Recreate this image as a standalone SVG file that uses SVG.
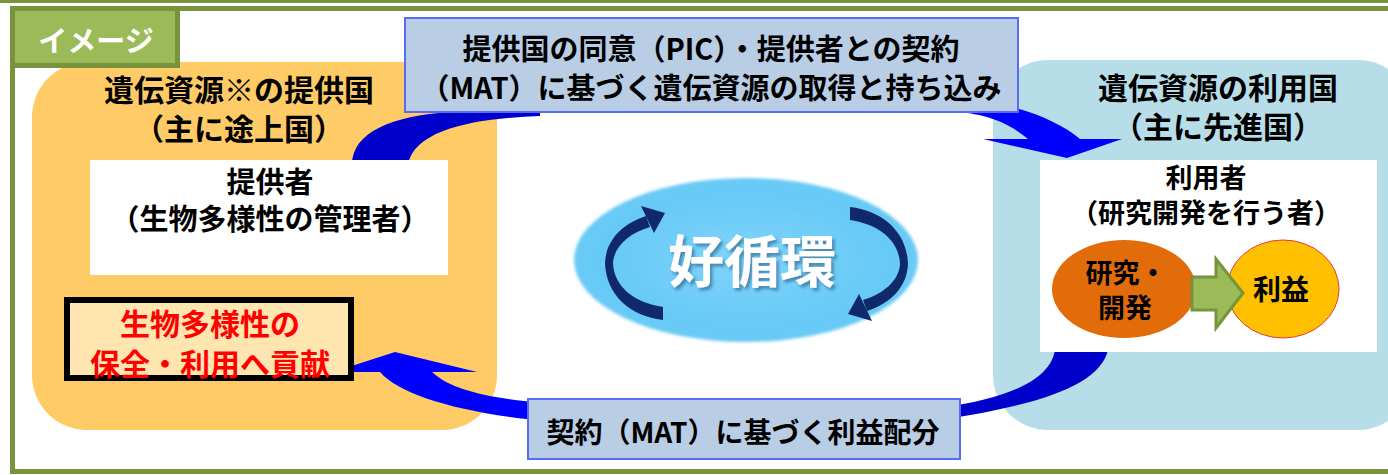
<svg xmlns="http://www.w3.org/2000/svg" width="1388" height="475" viewBox="0 0 1388 475">
<style>
.t{font-family:"Noto Sans CJK JP","Noto Sans",sans-serif;font-weight:700;text-anchor:middle;fill:#000}
.lbl{fill:#B9CDE5;stroke:#5A6CF0;stroke-width:2}
</style>
<defs>
<radialGradient id="eg" cx="0.5" cy="0.5" r="0.5">
<stop offset="0" stop-color="#80D4FA"/>
<stop offset="0.85" stop-color="#66C9F7"/>
<stop offset="1" stop-color="#6ACAF5"/>
</radialGradient>
<filter id="soft" x="-10%" y="-10%" width="120%" height="120%"><feGaussianBlur stdDeviation="1.5"/></filter>
<filter id="ds" x="-10%" y="-20%" width="125%" height="150%"><feDropShadow dx="2.5" dy="3" stdDeviation="1.5" flood-color="#1E4F78" flood-opacity="0.55"/></filter>
</defs>
<rect x="0" y="0" width="1388" height="475" fill="#fff"/>
<rect x="0" y="0" width="1388" height="3" fill="#77933C"/>
<rect x="12.5" y="8.5" width="1400" height="463" fill="#fff" stroke="#77933C" stroke-width="5"/>

<g id="provider-country">
<rect x="32" y="62" width="465" height="368" rx="55" ry="55" fill="#FECB66"/>
<text class="t" font-size="30"><tspan x="239" y="101">遺伝資源※の提供国</tspan><tspan x="239" y="140">（主に途上国）</tspan></text>
</g>
<g id="user-country">
<rect x="993" y="60" width="420" height="370" rx="55" ry="55" fill="#B7DDE8"/>
<text class="t" font-size="30"><tspan x="1218" y="99">遺伝資源の利用国</tspan><tspan x="1218" y="138">（主に先進国）</tspan></text>
</g>

<g id="tab">
<rect x="12.5" y="8.5" width="165" height="57" fill="#9BBB59" stroke="#77933C" stroke-width="5"/>
<text class="t" x="96" y="52" font-size="29" style="fill:#fff">イメージ</text>
</g>

<g id="connectors">
<path d="M352,165 C352,132 392,116 450,112 L540,112 L540,116 C480,118 414,128 408,165 Z" fill="#0000CC"/>
<path d="M960,100 L1000,104 C1035,112 1062,124 1080,139 L1122,139 L1067,158 L983,139 L1028,139 C1012,126 995,116 960,112 Z" fill="#0000FF"/>
<path d="M1055,350 L1108,350 C1100,385 1040,405 940,420 L940,408 C1010,398 1050,380 1055,350 Z" fill="#0000CC"/>
<path d="M545,403 C495,399 452,391 432,372 L477,372 L395,352 L333,372 L380,372 C400,395 460,413 545,421 Z" fill="#0000FF"/>
</g>

<g id="provider">
<rect x="90" y="160" width="358" height="115" fill="#fff"/>
<text class="t" font-size="29"><tspan x="270" y="193">提供者</tspan><tspan x="270" y="230">（生物多様性の管理者）</tspan></text>
</g>

<g id="contribution">
<rect x="67" y="300" width="284" height="78" fill="#FFE5B0" stroke="#000" stroke-width="6"/>
<text class="t" font-size="30" style="fill:#FF0000"><tspan x="210" y="335">生物多様性の</tspan><tspan x="210" y="375">保全・利用へ貢献</tspan></text>
</g>

<g id="user">
<rect x="1040" y="160" width="337" height="192" fill="#fff"/>
<text class="t" font-size="27"><tspan x="1206" y="188">利用者</tspan><tspan x="1206" y="223">（研究開発を行う者）</tspan></text>
</g>

<g id="rnd">
<ellipse cx="1124" cy="289" rx="72" ry="49" fill="#E36C0A"/>
<text class="t" font-size="27"><tspan x="1126" y="283">研究・</tspan><tspan x="1125" y="318">開発</tspan></text>
</g>
<g id="profit">
<ellipse cx="1283" cy="289" rx="56" ry="49" fill="#FFC000" stroke="#E03C3C" stroke-width="1"/>
<text class="t" x="1281" y="300" font-size="28">利益</text>
</g>
<g id="rnd-arrow">
<polygon points="1192,277 1216,277 1216,259 1243,293 1216,328 1216,310 1192,310" fill="#9BBB59" stroke="#77933C" stroke-width="3" stroke-linejoin="miter"/>
</g>

<g id="cycle">
<ellipse cx="746" cy="260" rx="172" ry="82" fill="url(#eg)" filter="url(#soft)"/>
<g id="arc-left" fill="#10296B">
<path d="M663,320 C630,316 606,295 605,263 C606,240 622,224 646,216 L650,227 C630,233 614,246 613,263 C614,288 636,303 663,307 Z"/>
<polygon points="641,206 665,213 654,233"/>
</g>
<g id="arc-right" transform="rotate(180 756.5 263.5)" fill="#10296B">
<path d="M663,320 C630,316 606,295 605,263 C606,240 622,224 646,216 L650,227 C630,233 614,246 613,263 C614,288 636,303 663,307 Z"/>
<polygon points="641,206 665,213 654,233"/>
</g>
<text class="t" x="752" y="282" font-size="56" style="fill:#fff" filter="url(#ds)">好循環</text>
</g>

<g id="label-top">
<rect class="lbl" x="405" y="18" width="613" height="94"/>
<text class="t" font-size="29"><tspan x="711" y="60">提供国の同意（PIC）・提供者との契約</tspan><tspan x="711" y="99">（MAT）に基づく遺伝資源の取得と持ち込み</tspan></text>
</g>
<g id="label-bottom">
<rect class="lbl" x="528" y="399" width="432" height="60"/>
<text class="t" x="743" y="443" font-size="28">契約（MAT）に基づく利益配分</text>
</g>
</svg>
